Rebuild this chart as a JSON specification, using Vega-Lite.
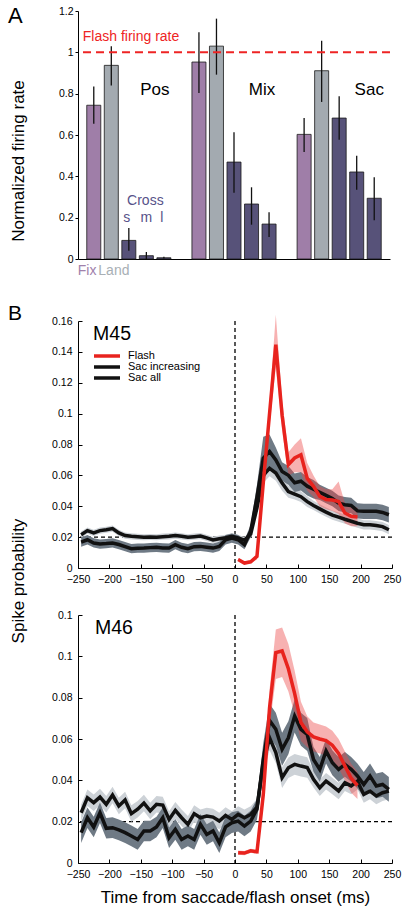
{
"$schema": "https://vega.github.io/schema/vega-lite/v6.json",
"background": "white",
"padding": {"left": 8, "top": 5, "right": 4, "bottom": 4},
"bounds": "flush",
"spacing": 62,
"resolve": {"scale": {"color": "independent", "strokeWidth": "independent"}},
"config": {
  "font": "Liberation Sans",
  "view": {"stroke": null},
  "axis": {"grid": false, "domainColor": "#000", "domainWidth": 1, "tickColor": "#000", "tickWidth": 1, "labelColor": "#000", "labelFont": "Liberation Sans", "labelFontSize": 10.5, "titleFont": "Liberation Sans", "titleFontSize": 17, "titleFontWeight": "normal", "titleColor": "#000"},
  "title": {"font": "Liberation Sans", "fontWeight": "normal", "color": "#000"},
  "text": {"font": "Liberation Sans"}
},
"datasets": {
  "one": [{}],
  "bars": [
    {"slot": "Pos Fix", "cond": "Fix", "v": 0.744, "lo": 0.655, "hi": 0.835},
    {"slot": "Pos Land", "cond": "Land", "v": 0.937, "lo": 0.84, "hi": 1.03},
    {"slot": "Pos s", "cond": "Cross", "v": 0.09, "lo": 0.04, "hi": 0.15},
    {"slot": "Pos m", "cond": "Cross", "v": 0.016, "lo": 0.0, "hi": 0.034},
    {"slot": "Pos l", "cond": "Cross", "v": 0.006, "lo": 0.003, "hi": 0.011},
    {"slot": "Mix Fix", "cond": "Fix", "v": 0.953, "lo": 0.803, "hi": 1.097},
    {"slot": "Mix Land", "cond": "Land", "v": 1.03, "lo": 0.892, "hi": 1.163},
    {"slot": "Mix s", "cond": "Cross", "v": 0.469, "lo": 0.321, "hi": 0.613},
    {"slot": "Mix m", "cond": "Cross", "v": 0.266, "lo": 0.166, "hi": 0.347},
    {"slot": "Mix l", "cond": "Cross", "v": 0.169, "lo": 0.106, "hi": 0.226},
    {"slot": "Sac Fix", "cond": "Fix", "v": 0.603, "lo": 0.518, "hi": 0.682},
    {"slot": "Sac Land", "cond": "Land", "v": 0.911, "lo": 0.76, "hi": 1.056},
    {"slot": "Sac s", "cond": "Cross", "v": 0.682, "lo": 0.577, "hi": 0.787},
    {"slot": "Sac m", "cond": "Cross", "v": 0.421, "lo": 0.335, "hi": 0.5},
    {"slot": "Sac l", "cond": "Cross", "v": 0.294, "lo": 0.187, "hi": 0.395}
  ],
  "m45": [
    {"s":"Sac all","t":-245,"v":0.0216,"lo":0.0196,"hi":0.0236},
    {"s":"Sac all","t":-235,"v":0.0242,"lo":0.0222,"hi":0.0262},
    {"s":"Sac all","t":-225,"v":0.0227,"lo":0.0207,"hi":0.0247},
    {"s":"Sac all","t":-215,"v":0.0242,"lo":0.0222,"hi":0.0262},
    {"s":"Sac all","t":-205,"v":0.0248,"lo":0.0228,"hi":0.0268},
    {"s":"Sac all","t":-195,"v":0.0255,"lo":0.0235,"hi":0.0275},
    {"s":"Sac all","t":-185,"v":0.0227,"lo":0.0207,"hi":0.0247},
    {"s":"Sac all","t":-175,"v":0.021,"lo":0.019,"hi":0.023},
    {"s":"Sac all","t":-165,"v":0.0205,"lo":0.0185,"hi":0.0225},
    {"s":"Sac all","t":-155,"v":0.0202,"lo":0.0182,"hi":0.0222},
    {"s":"Sac all","t":-145,"v":0.0199,"lo":0.0179,"hi":0.0219},
    {"s":"Sac all","t":-135,"v":0.0201,"lo":0.0181,"hi":0.0221},
    {"s":"Sac all","t":-125,"v":0.0199,"lo":0.0179,"hi":0.0219},
    {"s":"Sac all","t":-115,"v":0.0203,"lo":0.0183,"hi":0.0223},
    {"s":"Sac all","t":-105,"v":0.0205,"lo":0.0185,"hi":0.0225},
    {"s":"Sac all","t":-95,"v":0.021,"lo":0.019,"hi":0.023},
    {"s":"Sac all","t":-85,"v":0.0205,"lo":0.0185,"hi":0.0225},
    {"s":"Sac all","t":-75,"v":0.0199,"lo":0.0179,"hi":0.0219},
    {"s":"Sac all","t":-65,"v":0.0203,"lo":0.0183,"hi":0.0223},
    {"s":"Sac all","t":-55,"v":0.0207,"lo":0.0187,"hi":0.0227},
    {"s":"Sac all","t":-45,"v":0.0195,"lo":0.0175,"hi":0.0215},
    {"s":"Sac all","t":-35,"v":0.0182,"lo":0.0162,"hi":0.0202},
    {"s":"Sac all","t":-25,"v":0.019,"lo":0.017,"hi":0.021},
    {"s":"Sac all","t":-15,"v":0.0196,"lo":0.0176,"hi":0.0216},
    {"s":"Sac all","t":-5,"v":0.0205,"lo":0.0185,"hi":0.0225},
    {"s":"Sac all","t":5,"v":0.0195,"lo":0.0175,"hi":0.0215},
    {"s":"Sac all","t":15,"v":0.018,"lo":0.016,"hi":0.02},
    {"s":"Sac all","t":25,"v":0.022,"lo":0.02,"hi":0.024},
    {"s":"Sac all","t":35,"v":0.039,"lo":0.036,"hi":0.042},
    {"s":"Sac all","t":45,"v":0.06,"lo":0.055,"hi":0.065},
    {"s":"Sac all","t":55,"v":0.0645,"lo":0.0595,"hi":0.0695},
    {"s":"Sac all","t":65,"v":0.0615,"lo":0.0565,"hi":0.0665},
    {"s":"Sac all","t":75,"v":0.055,"lo":0.05,"hi":0.06},
    {"s":"Sac all","t":85,"v":0.0495,"lo":0.0455,"hi":0.0535},
    {"s":"Sac all","t":95,"v":0.0478,"lo":0.0443,"hi":0.0513},
    {"s":"Sac all","t":105,"v":0.0462,"lo":0.0427,"hi":0.0497},
    {"s":"Sac all","t":115,"v":0.043,"lo":0.0395,"hi":0.0465},
    {"s":"Sac all","t":125,"v":0.0405,"lo":0.0375,"hi":0.0435},
    {"s":"Sac all","t":135,"v":0.0383,"lo":0.0353,"hi":0.0413},
    {"s":"Sac all","t":145,"v":0.0362,"lo":0.0332,"hi":0.0392},
    {"s":"Sac all","t":155,"v":0.0343,"lo":0.0313,"hi":0.0373},
    {"s":"Sac all","t":165,"v":0.033,"lo":0.03,"hi":0.036},
    {"s":"Sac all","t":175,"v":0.0316,"lo":0.0286,"hi":0.0346},
    {"s":"Sac all","t":185,"v":0.0303,"lo":0.0273,"hi":0.0333},
    {"s":"Sac all","t":195,"v":0.029,"lo":0.026,"hi":0.032},
    {"s":"Sac all","t":205,"v":0.028,"lo":0.025,"hi":0.031},
    {"s":"Sac all","t":215,"v":0.028,"lo":0.025,"hi":0.031},
    {"s":"Sac all","t":225,"v":0.0275,"lo":0.0245,"hi":0.0305},
    {"s":"Sac all","t":235,"v":0.0268,"lo":0.0238,"hi":0.0298},
    {"s":"Sac all","t":245,"v":0.0248,"lo":0.0218,"hi":0.0278},
    {"s":"Sac increasing","t":-245,"v":0.0168,"lo":0.0138,"hi":0.0198},
    {"s":"Sac increasing","t":-235,"v":0.0183,"lo":0.0153,"hi":0.0213},
    {"s":"Sac increasing","t":-225,"v":0.0162,"lo":0.0132,"hi":0.0192},
    {"s":"Sac increasing","t":-215,"v":0.0155,"lo":0.0125,"hi":0.0185},
    {"s":"Sac increasing","t":-205,"v":0.0158,"lo":0.0128,"hi":0.0188},
    {"s":"Sac increasing","t":-195,"v":0.0162,"lo":0.0132,"hi":0.0192},
    {"s":"Sac increasing","t":-185,"v":0.0152,"lo":0.0122,"hi":0.0182},
    {"s":"Sac increasing","t":-175,"v":0.0138,"lo":0.0108,"hi":0.0168},
    {"s":"Sac increasing","t":-165,"v":0.0125,"lo":0.0095,"hi":0.0155},
    {"s":"Sac increasing","t":-155,"v":0.0128,"lo":0.0098,"hi":0.0158},
    {"s":"Sac increasing","t":-145,"v":0.0129,"lo":0.0099,"hi":0.0159},
    {"s":"Sac increasing","t":-135,"v":0.0132,"lo":0.0102,"hi":0.0162},
    {"s":"Sac increasing","t":-125,"v":0.0134,"lo":0.0104,"hi":0.0164},
    {"s":"Sac increasing","t":-115,"v":0.013,"lo":0.01,"hi":0.016},
    {"s":"Sac increasing","t":-105,"v":0.0129,"lo":0.0099,"hi":0.0159},
    {"s":"Sac increasing","t":-95,"v":0.0151,"lo":0.0121,"hi":0.0181},
    {"s":"Sac increasing","t":-85,"v":0.0134,"lo":0.0104,"hi":0.0164},
    {"s":"Sac increasing","t":-75,"v":0.0125,"lo":0.0095,"hi":0.0155},
    {"s":"Sac increasing","t":-65,"v":0.0138,"lo":0.0108,"hi":0.0168},
    {"s":"Sac increasing","t":-55,"v":0.014,"lo":0.011,"hi":0.017},
    {"s":"Sac increasing","t":-45,"v":0.0135,"lo":0.0105,"hi":0.0165},
    {"s":"Sac increasing","t":-35,"v":0.0129,"lo":0.0099,"hi":0.0159},
    {"s":"Sac increasing","t":-25,"v":0.014,"lo":0.011,"hi":0.017},
    {"s":"Sac increasing","t":-15,"v":0.0183,"lo":0.0153,"hi":0.0213},
    {"s":"Sac increasing","t":-5,"v":0.0194,"lo":0.0164,"hi":0.0224},
    {"s":"Sac increasing","t":5,"v":0.0183,"lo":0.0153,"hi":0.0213},
    {"s":"Sac increasing","t":15,"v":0.0151,"lo":0.0121,"hi":0.0181},
    {"s":"Sac increasing","t":25,"v":0.024,"lo":0.02,"hi":0.028},
    {"s":"Sac increasing","t":35,"v":0.046,"lo":0.038,"hi":0.054},
    {"s":"Sac increasing","t":45,"v":0.071,"lo":0.057,"hi":0.085},
    {"s":"Sac increasing","t":55,"v":0.0755,"lo":0.0645,"hi":0.0865},
    {"s":"Sac increasing","t":65,"v":0.07,"lo":0.062,"hi":0.078},
    {"s":"Sac increasing","t":75,"v":0.0625,"lo":0.0565,"hi":0.0685},
    {"s":"Sac increasing","t":85,"v":0.06,"lo":0.054,"hi":0.066},
    {"s":"Sac increasing","t":95,"v":0.0552,"lo":0.0492,"hi":0.0612},
    {"s":"Sac increasing","t":105,"v":0.0562,"lo":0.0502,"hi":0.0622},
    {"s":"Sac increasing","t":115,"v":0.053,"lo":0.047,"hi":0.059},
    {"s":"Sac increasing","t":125,"v":0.051,"lo":0.045,"hi":0.057},
    {"s":"Sac increasing","t":135,"v":0.049,"lo":0.044,"hi":0.054},
    {"s":"Sac increasing","t":145,"v":0.047,"lo":0.042,"hi":0.052},
    {"s":"Sac increasing","t":155,"v":0.045,"lo":0.04,"hi":0.05},
    {"s":"Sac increasing","t":165,"v":0.042,"lo":0.037,"hi":0.047},
    {"s":"Sac increasing","t":175,"v":0.041,"lo":0.036,"hi":0.046},
    {"s":"Sac increasing","t":185,"v":0.0405,"lo":0.0355,"hi":0.0455},
    {"s":"Sac increasing","t":195,"v":0.037,"lo":0.032,"hi":0.042},
    {"s":"Sac increasing","t":205,"v":0.0367,"lo":0.0317,"hi":0.0417},
    {"s":"Sac increasing","t":215,"v":0.0367,"lo":0.0317,"hi":0.0417},
    {"s":"Sac increasing","t":225,"v":0.0367,"lo":0.0317,"hi":0.0417},
    {"s":"Sac increasing","t":235,"v":0.036,"lo":0.031,"hi":0.041},
    {"s":"Sac increasing","t":245,"v":0.0345,"lo":0.0295,"hi":0.0395},
    {"s":"Flash","t":5,"v":0.0055,"lo":0.0045,"hi":0.0065},
    {"s":"Flash","t":15,"v":0.0032,"lo":0.0022,"hi":0.0042},
    {"s":"Flash","t":25,"v":0.004,"lo":0.003,"hi":0.005},
    {"s":"Flash","t":35,"v":0.0075,"lo":0.0055,"hi":0.0095},
    {"s":"Flash","t":45,"v":0.055,"lo":0.05,"hi":0.06},
    {"s":"Flash","t":55,"v":0.1,"lo":0.092,"hi":0.108},
    {"s":"Flash","t":65,"v":0.1447,"lo":0.13,"hi":0.164},
    {"s":"Flash","t":75,"v":0.099,"lo":0.089,"hi":0.109},
    {"s":"Flash","t":85,"v":0.067,"lo":0.06,"hi":0.075},
    {"s":"Flash","t":95,"v":0.0713,"lo":0.062,"hi":0.08},
    {"s":"Flash","t":105,"v":0.0734,"lo":0.062,"hi":0.084},
    {"s":"Flash","t":115,"v":0.058,"lo":0.05,"hi":0.068},
    {"s":"Flash","t":125,"v":0.0529,"lo":0.046,"hi":0.06},
    {"s":"Flash","t":135,"v":0.0464,"lo":0.04,"hi":0.053},
    {"s":"Flash","t":145,"v":0.0443,"lo":0.038,"hi":0.051},
    {"s":"Flash","t":155,"v":0.044,"lo":0.037,"hi":0.051},
    {"s":"Flash","t":165,"v":0.043,"lo":0.035,"hi":0.056},
    {"s":"Flash","t":175,"v":0.0356,"lo":0.029,"hi":0.042},
    {"s":"Flash","t":185,"v":0.0335,"lo":0.027,"hi":0.04},
    {"s":"Flash","t":195,"v":0.033,"lo":0.027,"hi":0.039}
  ],
  "m46": [
    {"s":"Sac all","t":-245,"v":0.0243,"lo":0.0203,"hi":0.0283},
    {"s":"Sac all","t":-235,"v":0.0316,"lo":0.0276,"hi":0.0356},
    {"s":"Sac all","t":-225,"v":0.0292,"lo":0.0252,"hi":0.0332},
    {"s":"Sac all","t":-215,"v":0.0319,"lo":0.0279,"hi":0.0359},
    {"s":"Sac all","t":-205,"v":0.0284,"lo":0.0244,"hi":0.0324},
    {"s":"Sac all","t":-195,"v":0.0329,"lo":0.0289,"hi":0.0369},
    {"s":"Sac all","t":-185,"v":0.0276,"lo":0.0236,"hi":0.0316},
    {"s":"Sac all","t":-175,"v":0.0305,"lo":0.0265,"hi":0.0345},
    {"s":"Sac all","t":-165,"v":0.0239,"lo":0.0199,"hi":0.0279},
    {"s":"Sac all","t":-155,"v":0.026,"lo":0.022,"hi":0.03},
    {"s":"Sac all","t":-145,"v":0.029,"lo":0.025,"hi":0.033},
    {"s":"Sac all","t":-135,"v":0.0252,"lo":0.0212,"hi":0.0292},
    {"s":"Sac all","t":-125,"v":0.0284,"lo":0.0244,"hi":0.0324},
    {"s":"Sac all","t":-115,"v":0.028,"lo":0.024,"hi":0.032},
    {"s":"Sac all","t":-105,"v":0.0211,"lo":0.0171,"hi":0.0251},
    {"s":"Sac all","t":-95,"v":0.0255,"lo":0.0215,"hi":0.0295},
    {"s":"Sac all","t":-85,"v":0.0219,"lo":0.0179,"hi":0.0259},
    {"s":"Sac all","t":-75,"v":0.0187,"lo":0.0147,"hi":0.0227},
    {"s":"Sac all","t":-65,"v":0.0239,"lo":0.0199,"hi":0.0279},
    {"s":"Sac all","t":-55,"v":0.0219,"lo":0.0179,"hi":0.0259},
    {"s":"Sac all","t":-45,"v":0.0227,"lo":0.0187,"hi":0.0267},
    {"s":"Sac all","t":-35,"v":0.0222,"lo":0.0182,"hi":0.0262},
    {"s":"Sac all","t":-25,"v":0.0203,"lo":0.0163,"hi":0.0243},
    {"s":"Sac all","t":-15,"v":0.023,"lo":0.019,"hi":0.027},
    {"s":"Sac all","t":-5,"v":0.0211,"lo":0.0171,"hi":0.0251},
    {"s":"Sac all","t":5,"v":0.0235,"lo":0.0195,"hi":0.0275},
    {"s":"Sac all","t":15,"v":0.0219,"lo":0.0179,"hi":0.0259},
    {"s":"Sac all","t":25,"v":0.0235,"lo":0.0195,"hi":0.0275},
    {"s":"Sac all","t":35,"v":0.027,"lo":0.023,"hi":0.031},
    {"s":"Sac all","t":45,"v":0.048,"lo":0.043,"hi":0.053},
    {"s":"Sac all","t":55,"v":0.0606,"lo":0.0546,"hi":0.0666},
    {"s":"Sac all","t":65,"v":0.0534,"lo":0.0484,"hi":0.0584},
    {"s":"Sac all","t":75,"v":0.0413,"lo":0.0363,"hi":0.0463},
    {"s":"Sac all","t":85,"v":0.0461,"lo":0.0411,"hi":0.0511},
    {"s":"Sac all","t":95,"v":0.0477,"lo":0.0427,"hi":0.0527},
    {"s":"Sac all","t":105,"v":0.0469,"lo":0.0419,"hi":0.0519},
    {"s":"Sac all","t":115,"v":0.0462,"lo":0.0412,"hi":0.0512},
    {"s":"Sac all","t":125,"v":0.0405,"lo":0.0365,"hi":0.0445},
    {"s":"Sac all","t":135,"v":0.0364,"lo":0.0324,"hi":0.0404},
    {"s":"Sac all","t":145,"v":0.0396,"lo":0.0356,"hi":0.0436},
    {"s":"Sac all","t":155,"v":0.0373,"lo":0.0333,"hi":0.0413},
    {"s":"Sac all","t":165,"v":0.0348,"lo":0.0308,"hi":0.0388},
    {"s":"Sac all","t":175,"v":0.0388,"lo":0.0348,"hi":0.0428},
    {"s":"Sac all","t":185,"v":0.0373,"lo":0.0333,"hi":0.0413},
    {"s":"Sac all","t":195,"v":0.0396,"lo":0.0356,"hi":0.0436},
    {"s":"Sac all","t":205,"v":0.0332,"lo":0.0292,"hi":0.0372},
    {"s":"Sac all","t":215,"v":0.0348,"lo":0.0308,"hi":0.0388},
    {"s":"Sac all","t":225,"v":0.0324,"lo":0.0284,"hi":0.0364},
    {"s":"Sac all","t":235,"v":0.034,"lo":0.03,"hi":0.038},
    {"s":"Sac all","t":245,"v":0.0348,"lo":0.0308,"hi":0.0388},
    {"s":"Sac increasing","t":-245,"v":0.0147,"lo":0.0097,"hi":0.0197},
    {"s":"Sac increasing","t":-235,"v":0.0219,"lo":0.0169,"hi":0.0269},
    {"s":"Sac increasing","t":-225,"v":0.0174,"lo":0.0124,"hi":0.0224},
    {"s":"Sac increasing","t":-215,"v":0.0243,"lo":0.0193,"hi":0.0293},
    {"s":"Sac increasing","t":-205,"v":0.0168,"lo":0.0118,"hi":0.0218},
    {"s":"Sac increasing","t":-195,"v":0.0171,"lo":0.0121,"hi":0.0221},
    {"s":"Sac increasing","t":-185,"v":0.016,"lo":0.011,"hi":0.021},
    {"s":"Sac increasing","t":-175,"v":0.0147,"lo":0.0097,"hi":0.0197},
    {"s":"Sac increasing","t":-165,"v":0.0131,"lo":0.0081,"hi":0.0181},
    {"s":"Sac increasing","t":-155,"v":0.0114,"lo":0.0064,"hi":0.0164},
    {"s":"Sac increasing","t":-145,"v":0.0155,"lo":0.0105,"hi":0.0205},
    {"s":"Sac increasing","t":-135,"v":0.0155,"lo":0.0105,"hi":0.0205},
    {"s":"Sac increasing","t":-125,"v":0.0174,"lo":0.0124,"hi":0.0224},
    {"s":"Sac increasing","t":-115,"v":0.0219,"lo":0.0169,"hi":0.0269},
    {"s":"Sac increasing","t":-105,"v":0.0122,"lo":0.0072,"hi":0.0172},
    {"s":"Sac increasing","t":-95,"v":0.0163,"lo":0.0113,"hi":0.0213},
    {"s":"Sac increasing","t":-85,"v":0.0114,"lo":0.0064,"hi":0.0164},
    {"s":"Sac increasing","t":-75,"v":0.0131,"lo":0.0081,"hi":0.0181},
    {"s":"Sac increasing","t":-65,"v":0.0114,"lo":0.0064,"hi":0.0164},
    {"s":"Sac increasing","t":-55,"v":0.0187,"lo":0.0137,"hi":0.0237},
    {"s":"Sac increasing","t":-45,"v":0.0138,"lo":0.0088,"hi":0.0188},
    {"s":"Sac increasing","t":-35,"v":0.0155,"lo":0.0105,"hi":0.0205},
    {"s":"Sac increasing","t":-25,"v":0.0098,"lo":0.0048,"hi":0.0148},
    {"s":"Sac increasing","t":-15,"v":0.0175,"lo":0.0125,"hi":0.0225},
    {"s":"Sac increasing","t":-5,"v":0.0195,"lo":0.0145,"hi":0.0245},
    {"s":"Sac increasing","t":5,"v":0.0203,"lo":0.0153,"hi":0.0253},
    {"s":"Sac increasing","t":15,"v":0.0179,"lo":0.0129,"hi":0.0229},
    {"s":"Sac increasing","t":25,"v":0.0203,"lo":0.0153,"hi":0.0253},
    {"s":"Sac increasing","t":35,"v":0.026,"lo":0.021,"hi":0.031},
    {"s":"Sac increasing","t":45,"v":0.05,"lo":0.042,"hi":0.058},
    {"s":"Sac increasing","t":55,"v":0.069,"lo":0.061,"hi":0.077},
    {"s":"Sac increasing","t":65,"v":0.0647,"lo":0.0567,"hi":0.0727},
    {"s":"Sac increasing","t":75,"v":0.055,"lo":0.047,"hi":0.063},
    {"s":"Sac increasing","t":85,"v":0.0606,"lo":0.0526,"hi":0.0686},
    {"s":"Sac increasing","t":95,"v":0.0711,"lo":0.0631,"hi":0.0791},
    {"s":"Sac increasing","t":105,"v":0.0647,"lo":0.0567,"hi":0.0727},
    {"s":"Sac increasing","t":115,"v":0.0622,"lo":0.0542,"hi":0.0702},
    {"s":"Sac increasing","t":125,"v":0.0501,"lo":0.0441,"hi":0.0561},
    {"s":"Sac increasing","t":135,"v":0.0453,"lo":0.0393,"hi":0.0513},
    {"s":"Sac increasing","t":145,"v":0.0542,"lo":0.0482,"hi":0.0602},
    {"s":"Sac increasing","t":155,"v":0.0485,"lo":0.0425,"hi":0.0545},
    {"s":"Sac increasing","t":165,"v":0.0453,"lo":0.0393,"hi":0.0513},
    {"s":"Sac increasing","t":175,"v":0.0477,"lo":0.0417,"hi":0.0537},
    {"s":"Sac increasing","t":185,"v":0.0453,"lo":0.0393,"hi":0.0513},
    {"s":"Sac increasing","t":195,"v":0.0421,"lo":0.0361,"hi":0.0481},
    {"s":"Sac increasing","t":205,"v":0.038,"lo":0.032,"hi":0.044},
    {"s":"Sac increasing","t":215,"v":0.0421,"lo":0.0361,"hi":0.0481},
    {"s":"Sac increasing","t":225,"v":0.0373,"lo":0.0313,"hi":0.0433},
    {"s":"Sac increasing","t":235,"v":0.038,"lo":0.032,"hi":0.044},
    {"s":"Sac increasing","t":245,"v":0.0356,"lo":0.0296,"hi":0.0416},
    {"s":"Flash","t":5,"v":0.005,"lo":0.004,"hi":0.006},
    {"s":"Flash","t":15,"v":0.0048,"lo":0.0038,"hi":0.0058},
    {"s":"Flash","t":25,"v":0.0059,"lo":0.0049,"hi":0.0069},
    {"s":"Flash","t":35,"v":0.0054,"lo":0.0044,"hi":0.0064},
    {"s":"Flash","t":45,"v":0.033,"lo":0.028,"hi":0.038},
    {"s":"Flash","t":55,"v":0.075,"lo":0.066,"hi":0.084},
    {"s":"Flash","t":65,"v":0.1018,"lo":0.089,"hi":0.113},
    {"s":"Flash","t":75,"v":0.1026,"lo":0.09,"hi":0.114},
    {"s":"Flash","t":85,"v":0.094,"lo":0.083,"hi":0.106},
    {"s":"Flash","t":95,"v":0.082,"lo":0.072,"hi":0.093},
    {"s":"Flash","t":105,"v":0.068,"lo":0.059,"hi":0.078},
    {"s":"Flash","t":115,"v":0.0635,"lo":0.056,"hi":0.071},
    {"s":"Flash","t":125,"v":0.061,"lo":0.054,"hi":0.068},
    {"s":"Flash","t":135,"v":0.06,"lo":0.053,"hi":0.067},
    {"s":"Flash","t":145,"v":0.0592,"lo":0.052,"hi":0.066},
    {"s":"Flash","t":155,"v":0.057,"lo":0.05,"hi":0.064},
    {"s":"Flash","t":165,"v":0.053,"lo":0.046,"hi":0.06},
    {"s":"Flash","t":175,"v":0.047,"lo":0.04,"hi":0.054},
    {"s":"Flash","t":185,"v":0.041,"lo":0.034,"hi":0.048},
    {"s":"Flash","t":195,"v":0.0375,"lo":0.031,"hi":0.044}
  ]
},
"vconcat": [
  {
    "width": 312,
    "height": 248,
    "title": {"text": "A", "anchor": "start", "frame": "group", "fontSize": 22, "offset": 0, "dx": -70, "dy": 39, "baseline": "alphabetic"},
    "encoding": {
      "x": {"field": "slot", "type": "nominal",
            "scale": {"domain": ["Pos Fix","Pos Land","Pos s","Pos m","Pos l","gap1","Mix Fix","Mix Land","Mix s","Mix m","Mix l","gap2","Sac Fix","Sac Land","Sac s","Sac m","Sac l"], "paddingInner": 0.2, "paddingOuter": 0.5},
            "axis": {"labels": false, "ticks": false, "title": null}}
    },
    "layer": [
      {"data": {"name": "bars"},
       "mark": {"type": "bar", "stroke": "#1a1a1a", "strokeWidth": 0.8},
       "encoding": {
         "y": {"field": "v", "type": "quantitative", "scale": {"domain": [0, 1.2]},
               "axis": {"values": [0,0.2,0.4,0.6,0.8,1,1.2], "format": "~g", "labelOverlap": false, "tickSize": 3, "labelPadding": 2, "title": "Normalized firing rate", "titleAngle": 270, "titleAlign": "center", "titleBaseline": "alphabetic", "titleX": -54.5, "titleY": 149.5}},
         "color": {"field": "cond", "type": "nominal", "scale": {"domain": ["Fix","Land","Cross"], "range": ["#9f7ea8","#a3aab0","#575279"]}, "legend": null}
       }},
      {"data": {"name": "bars"},
       "mark": {"type": "rule", "color": "#111", "strokeWidth": 1.3},
       "encoding": {"y": {"field": "lo", "type": "quantitative"}, "y2": {"field": "hi"}}},
      {"data": {"name": "one"},
       "mark": {"type": "rule", "color": "#ee2424", "strokeWidth": 2, "strokeDash": [8, 5]},
       "encoding": {"x": null, "y": {"datum": 1, "type": "quantitative"}}},
      {"data": {"name": "one"},
       "mark": {"type": "text", "fontSize": 14, "color": "#ee2424", "align": "left", "baseline": "alphabetic", "dx": -11},
       "encoding": {"x": {"datum": "Pos Fix"}, "y": {"datum": 1.053, "type": "quantitative"}, "text": {"value": "Flash firing rate"}}},
      {"data": {"name": "one"},
       "mark": {"type": "text", "fontSize": 17, "color": "#000", "align": "center", "baseline": "alphabetic", "dx": -9},
       "encoding": {"x": {"datum": "Pos l"}, "y": {"datum": 0.795, "type": "quantitative"}, "text": {"value": "Pos"}}},
      {"data": {"name": "one"},
       "mark": {"type": "text", "fontSize": 17, "color": "#000", "align": "center", "baseline": "alphabetic", "dx": -7},
       "encoding": {"x": {"datum": "Mix l"}, "y": {"datum": 0.795, "type": "quantitative"}, "text": {"value": "Mix"}}},
      {"data": {"name": "one"},
       "mark": {"type": "text", "fontSize": 17, "color": "#000", "align": "center", "baseline": "alphabetic", "dx": -5},
       "encoding": {"x": {"datum": "Sac l"}, "y": {"datum": 0.795, "type": "quantitative"}, "text": {"value": "Sac"}}},
      {"data": {"name": "one"},
       "mark": {"type": "text", "fontSize": 14, "color": "#575289", "align": "center", "baseline": "alphabetic", "dx": -1},
       "encoding": {"x": {"datum": "Pos m"}, "y": {"datum": 0.26, "type": "quantitative"}, "text": {"value": "Cross"}}},
      {"data": {"name": "one"},
       "mark": {"type": "text", "fontSize": 14, "color": "#575289", "align": "center", "baseline": "alphabetic", "dx": -2},
       "encoding": {"x": {"datum": "Pos s"}, "y": {"datum": 0.179, "type": "quantitative"}, "text": {"value": "s"}}},
      {"data": {"name": "one"},
       "mark": {"type": "text", "fontSize": 14, "color": "#575289", "align": "center", "baseline": "alphabetic"},
       "encoding": {"x": {"datum": "Pos m"}, "y": {"datum": 0.179, "type": "quantitative"}, "text": {"value": "m"}}},
      {"data": {"name": "one"},
       "mark": {"type": "text", "fontSize": 14, "color": "#575289", "align": "center", "baseline": "alphabetic", "dx": -2},
       "encoding": {"x": {"datum": "Pos l"}, "y": {"datum": 0.179, "type": "quantitative"}, "text": {"value": "l"}}},
      {"data": {"name": "one"},
       "mark": {"type": "text", "fontSize": 14, "color": "#a081ab", "align": "left", "baseline": "alphabetic", "dx": -16},
       "encoding": {"x": {"datum": "Pos Fix"}, "y": {"datum": -0.076, "type": "quantitative"}, "text": {"value": "Fix"}}},
      {"data": {"name": "one"},
       "mark": {"type": "text", "fontSize": 14, "color": "#a8afb5", "align": "left", "baseline": "alphabetic", "dx": -13},
       "encoding": {"x": {"datum": "Pos Land"}, "y": {"datum": -0.076, "type": "quantitative"}, "text": {"value": "Land"}}}
    ]
  },
  {
    "bounds": "flush",
    "spacing": 47,
    "resolve": {"scale": {"color": "independent", "strokeWidth": "independent"}},
    "vconcat": [
      {
        "width": 314,
        "height": 247,
        "title": {"text": "B", "anchor": "start", "frame": "group", "fontSize": 21, "offset": 0, "dx": -70, "dy": 26, "baseline": "alphabetic"},
        "data": {"name": "m45"},
        "layer": [
          {"data": {"name": "one"},
           "mark": {"type": "rule", "color": "#000", "strokeWidth": 1.3, "strokeDash": [4, 3]},
           "encoding": {"x": {"datum": 0, "type": "quantitative", "scale": {"domain": [-250, 250], "nice": false}, "axis": {"values": [-250,-200,-150,-100,-50,0,50,100,150,200,250], "format": "d", "labelOverlap": false, "tickSize": -4, "labelPadding": 10, "labelFlush": false, "title": null}}}},
          {"data": {"name": "one"},
           "mark": {"type": "rule", "color": "#000", "strokeWidth": 1.3, "strokeDash": [4, 3]},
           "encoding": {"y": {"datum": 0.02, "type": "quantitative", "scale": {"domain": [0, 0.16], "nice": false}, "axis": {"values": [0,0.02,0.04,0.06,0.08,0.1,0.12,0.14,0.16], "format": "~g", "labelOverlap": false, "tickSize": -4, "labelPadding": 10, "title": null}}}},
          {"transform": [{"filter": {"field": "s", "equal": "Sac all"}}],
           "mark": {"type": "area", "color": "#cdd2d7"},
           "encoding": {
             "x": {"field": "t", "type": "quantitative", "scale": {"domain": [-250, 250], "nice": false}, "axis": {"values": [-250,-200,-150,-100,-50,0,50,100,150,200,250], "format": "d", "labelOverlap": false, "tickSize": -4, "labelPadding": 10, "labelFlush": false, "title": null}},
             "y": {"field": "lo", "type": "quantitative", "stack": null, "scale": {"domain": [0, 0.16], "nice": false}, "axis": {"values": [0,0.02,0.04,0.06,0.08,0.1,0.12,0.14,0.16], "format": "~g", "labelOverlap": false, "tickSize": -4, "labelPadding": 10, "title": null}},
             "y2": {"field": "hi"}}},
          {"transform": [{"filter": {"field": "s", "equal": "Sac increasing"}}],
           "mark": {"type": "area", "color": "#6f7a85"},
           "encoding": {
             "x": {"field": "t", "type": "quantitative", "scale": {"domain": [-250, 250], "nice": false}, "axis": {"values": [-250,-200,-150,-100,-50,0,50,100,150,200,250], "format": "d", "labelOverlap": false, "tickSize": -4, "labelPadding": 10, "labelFlush": false, "title": null}},
             "y": {"field": "lo", "type": "quantitative", "stack": null, "scale": {"domain": [0, 0.16], "nice": false}, "axis": {"values": [0,0.02,0.04,0.06,0.08,0.1,0.12,0.14,0.16], "format": "~g", "labelOverlap": false, "tickSize": -4, "labelPadding": 10, "title": null}},
             "y2": {"field": "hi"}}},
          {"transform": [{"filter": {"field": "s", "equal": "Flash"}}],
           "mark": {"type": "area", "color": "#ec4646", "opacity": 0.42},
           "encoding": {
             "x": {"field": "t", "type": "quantitative", "scale": {"domain": [-250, 250], "nice": false}, "axis": {"values": [-250,-200,-150,-100,-50,0,50,100,150,200,250], "format": "d", "labelOverlap": false, "tickSize": -4, "labelPadding": 10, "labelFlush": false, "title": null}},
             "y": {"field": "lo", "type": "quantitative", "stack": null, "scale": {"domain": [0, 0.16], "nice": false}, "axis": {"values": [0,0.02,0.04,0.06,0.08,0.1,0.12,0.14,0.16], "format": "~g", "labelOverlap": false, "tickSize": -4, "labelPadding": 10, "title": null}},
             "y2": {"field": "hi"}}},
          {"mark": {"type": "line"},
           "encoding": {
             "x": {"field": "t", "type": "quantitative", "scale": {"domain": [-250, 250], "nice": false}, "axis": {"values": [-250,-200,-150,-100,-50,0,50,100,150,200,250], "format": "d", "labelOverlap": false, "tickSize": -4, "labelPadding": 10, "labelFlush": false, "title": null}},
             "y": {"field": "v", "type": "quantitative", "scale": {"domain": [0, 0.16], "nice": false}, "axis": {"values": [0,0.02,0.04,0.06,0.08,0.1,0.12,0.14,0.16], "format": "~g", "labelOverlap": false, "tickSize": -4, "labelPadding": 10, "title": null}},
             "color": {"field": "s", "type": "nominal", "scale": {"domain": ["Flash","Sac increasing","Sac all"], "range": ["#e8231e","#111111","#111111"]},
                       "legend": {"title": null, "orient": "none", "legendX": 14, "legendY": 30, "symbolType": "stroke", "symbolSize": 676, "clipHeight": 10, "labelFontSize": 11, "labelFont": "Liberation Sans", "labelColor": "#000", "labelOffset": 6, "rowPadding": 0, "padding": 0}},
             "strokeWidth": {"field": "s", "type": "nominal", "scale": {"domain": ["Flash","Sac increasing","Sac all"], "range": [3.5, 3.5, 1.5]},
                       "legend": {"title": null, "orient": "none", "legendX": 14, "legendY": 30, "symbolType": "stroke", "symbolSize": 676, "clipHeight": 10, "labelFontSize": 11, "labelFont": "Liberation Sans", "labelColor": "#000", "labelOffset": 6, "rowPadding": 0, "padding": 0}}
           }},
          {"data": {"name": "one"},
           "mark": {"type": "text", "fontSize": 19.5, "color": "#000", "align": "left", "baseline": "alphabetic"},
           "encoding": {
             "x": {"datum": -226, "type": "quantitative", "scale": {"domain": [-250, 250], "nice": false}, "axis": {"values": [-250,-200,-150,-100,-50,0,50,100,150,200,250], "format": "d", "labelOverlap": false, "tickSize": -4, "labelPadding": 10, "labelFlush": false, "title": null}},
             "y": {"datum": 0.1479, "type": "quantitative", "scale": {"domain": [0, 0.16], "nice": false}, "axis": {"values": [0,0.02,0.04,0.06,0.08,0.1,0.12,0.14,0.16], "format": "~g", "labelOverlap": false, "tickSize": -4, "labelPadding": 10, "title": null}},
             "text": {"value": "M45"}}}
        ]
      },
      {
        "width": 314,
        "height": 248,
        "data": {"name": "m46"},
        "layer": [
          {"data": {"name": "one"},
           "mark": {"type": "rule", "color": "#000", "strokeWidth": 1.3, "strokeDash": [4, 3]},
           "encoding": {"x": {"datum": 0, "type": "quantitative", "scale": {"domain": [-250, 250], "nice": false}, "axis": {"values": [-250,-200,-150,-100,-50,0,50,100,150,200,250], "format": "d", "labelOverlap": false, "tickSize": -4, "labelPadding": 10, "labelFlush": false, "title": "Time from saccade/flash onset (ms)", "titleY": 39, "titleBaseline": "alphabetic"}}}},
          {"data": {"name": "one"},
           "mark": {"type": "rule", "color": "#000", "strokeWidth": 1.3, "strokeDash": [4, 3]},
           "encoding": {"y": {"datum": 0.02, "type": "quantitative", "scale": {"domain": [0, 0.12], "nice": false}, "axis": {"values": [0,0.02,0.04,0.06,0.08,0.1,0.12], "format": "~g", "labelOverlap": false, "tickSize": -4, "labelPadding": 10, "title": "Spike probability", "titleAngle": 270, "titleAlign": "center", "titleBaseline": "alphabetic", "titleX": -54.5, "titleY": -34.5}}}},
          {"transform": [{"filter": {"field": "s", "equal": "Sac all"}}],
           "mark": {"type": "area", "color": "#cdd2d7"},
           "encoding": {
             "x": {"field": "t", "type": "quantitative", "scale": {"domain": [-250, 250], "nice": false}, "axis": {"values": [-250,-200,-150,-100,-50,0,50,100,150,200,250], "format": "d", "labelOverlap": false, "tickSize": -4, "labelPadding": 10, "labelFlush": false, "title": "Time from saccade/flash onset (ms)", "titleY": 39, "titleBaseline": "alphabetic"}},
             "y": {"field": "lo", "type": "quantitative", "stack": null, "scale": {"domain": [0, 0.12], "nice": false}, "axis": {"values": [0,0.02,0.04,0.06,0.08,0.1,0.12], "format": "~g", "labelOverlap": false, "tickSize": -4, "labelPadding": 10, "title": "Spike probability", "titleAngle": 270, "titleAlign": "center", "titleBaseline": "alphabetic", "titleX": -54.5, "titleY": -34.5}},
             "y2": {"field": "hi"}}},
          {"transform": [{"filter": {"field": "s", "equal": "Sac increasing"}}],
           "mark": {"type": "area", "color": "#6f7a85"},
           "encoding": {
             "x": {"field": "t", "type": "quantitative", "scale": {"domain": [-250, 250], "nice": false}, "axis": {"values": [-250,-200,-150,-100,-50,0,50,100,150,200,250], "format": "d", "labelOverlap": false, "tickSize": -4, "labelPadding": 10, "labelFlush": false, "title": "Time from saccade/flash onset (ms)", "titleY": 39, "titleBaseline": "alphabetic"}},
             "y": {"field": "lo", "type": "quantitative", "stack": null, "scale": {"domain": [0, 0.12], "nice": false}, "axis": {"values": [0,0.02,0.04,0.06,0.08,0.1,0.12], "format": "~g", "labelOverlap": false, "tickSize": -4, "labelPadding": 10, "title": "Spike probability", "titleAngle": 270, "titleAlign": "center", "titleBaseline": "alphabetic", "titleX": -54.5, "titleY": -34.5}},
             "y2": {"field": "hi"}}},
          {"transform": [{"filter": {"field": "s", "equal": "Flash"}}],
           "mark": {"type": "area", "color": "#ec4646", "opacity": 0.42},
           "encoding": {
             "x": {"field": "t", "type": "quantitative", "scale": {"domain": [-250, 250], "nice": false}, "axis": {"values": [-250,-200,-150,-100,-50,0,50,100,150,200,250], "format": "d", "labelOverlap": false, "tickSize": -4, "labelPadding": 10, "labelFlush": false, "title": "Time from saccade/flash onset (ms)", "titleY": 39, "titleBaseline": "alphabetic"}},
             "y": {"field": "lo", "type": "quantitative", "stack": null, "scale": {"domain": [0, 0.12], "nice": false}, "axis": {"values": [0,0.02,0.04,0.06,0.08,0.1,0.12], "format": "~g", "labelOverlap": false, "tickSize": -4, "labelPadding": 10, "title": "Spike probability", "titleAngle": 270, "titleAlign": "center", "titleBaseline": "alphabetic", "titleX": -54.5, "titleY": -34.5}},
             "y2": {"field": "hi"}}},
          {"mark": {"type": "line"},
           "encoding": {
             "x": {"field": "t", "type": "quantitative", "scale": {"domain": [-250, 250], "nice": false}, "axis": {"values": [-250,-200,-150,-100,-50,0,50,100,150,200,250], "format": "d", "labelOverlap": false, "tickSize": -4, "labelPadding": 10, "labelFlush": false, "title": "Time from saccade/flash onset (ms)", "titleY": 39, "titleBaseline": "alphabetic"}},
             "y": {"field": "v", "type": "quantitative", "scale": {"domain": [0, 0.12], "nice": false}, "axis": {"values": [0,0.02,0.04,0.06,0.08,0.1,0.12], "format": "~g", "labelOverlap": false, "tickSize": -4, "labelPadding": 10, "title": "Spike probability", "titleAngle": 270, "titleAlign": "center", "titleBaseline": "alphabetic", "titleX": -54.5, "titleY": -34.5}},
             "color": {"field": "s", "type": "nominal", "scale": {"domain": ["Flash","Sac increasing","Sac all"], "range": ["#e8231e","#111111","#111111"]}, "legend": null},
             "strokeWidth": {"field": "s", "type": "nominal", "scale": {"domain": ["Flash","Sac increasing","Sac all"], "range": [3.5, 3.5, 1.5]}, "legend": null}
           }},
          {"data": {"name": "one"},
           "mark": {"type": "text", "fontSize": 19.5, "color": "#000", "align": "left", "baseline": "alphabetic"},
           "encoding": {
             "x": {"datum": -223, "type": "quantitative", "scale": {"domain": [-250, 250], "nice": false}, "axis": {"values": [-250,-200,-150,-100,-50,0,50,100,150,200,250], "format": "d", "labelOverlap": false, "tickSize": -4, "labelPadding": 10, "labelFlush": false, "title": "Time from saccade/flash onset (ms)", "titleY": 39, "titleBaseline": "alphabetic"}},
             "y": {"datum": 0.1106, "type": "quantitative", "scale": {"domain": [0, 0.12], "nice": false}, "axis": {"values": [0,0.02,0.04,0.06,0.08,0.1,0.12], "format": "~g", "labelOverlap": false, "tickSize": -4, "labelPadding": 10, "title": "Spike probability", "titleAngle": 270, "titleAlign": "center", "titleBaseline": "alphabetic", "titleX": -54.5, "titleY": -34.5}},
             "text": {"value": "M46"}}}
        ]
      }
    ]
  }
]
}
